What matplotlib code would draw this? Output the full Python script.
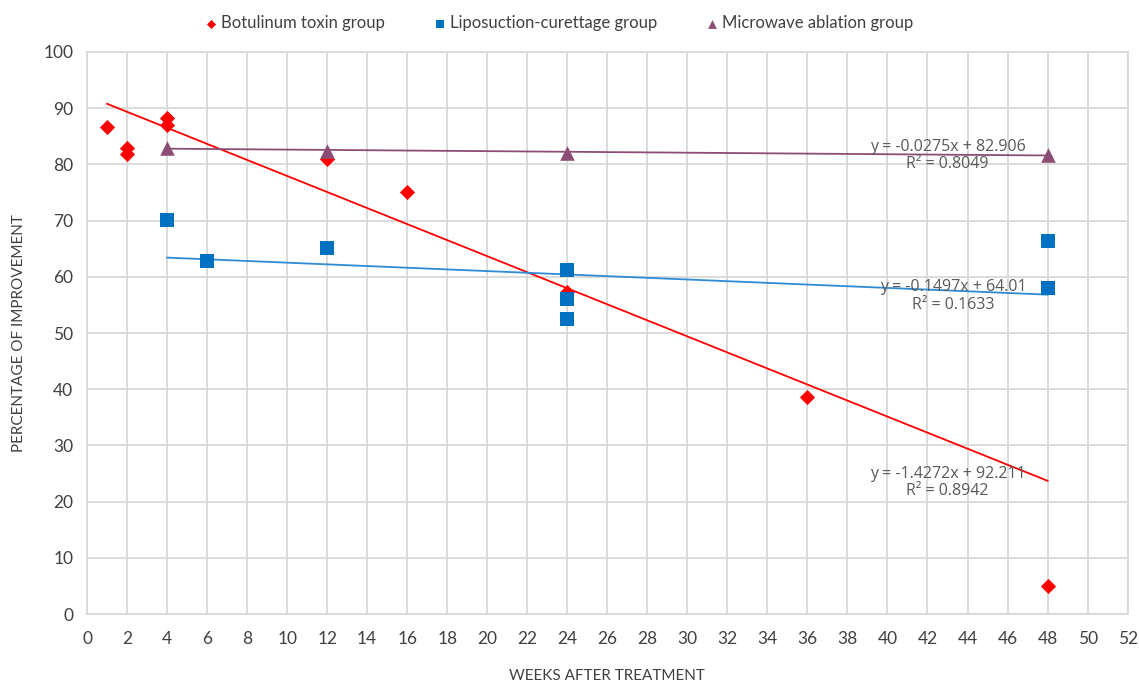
import matplotlib
matplotlib.use("Agg")
import matplotlib.pyplot as plt
import numpy as np

plt.rcParams['font.family'] = ['Lato', 'DejaVu Sans']

# Data
botox_x = [1, 2, 2, 4, 4, 12, 16, 24, 36, 48]
botox_y = [86.7, 83.0, 81.8, 88.2, 87.0, 81.0, 75.0, 57.3, 38.6, 5.0]

lipo_x = [4, 6, 12, 24, 24, 24, 48, 48]
lipo_y = [70.1, 62.8, 65.1, 61.2, 56.0, 52.5, 66.4, 58.0]

micro_x = [4, 12, 24, 48]
micro_y = [83.0, 82.3, 82.0, 81.6]

# Trendline coefficients (slope, intercept, R^2) as printed
botox_fit = (-1.4272, 92.211, 0.8942)
lipo_fit = (-0.1497, 64.01, 0.1633)
micro_fit = (-0.0275, 82.906, 0.8049)

series_names = ["Botulinum toxin group", "Liposuction-curettage group", "Microwave ablation group"]

red = "#FF0000"
blue = "#0070C0"
purple = "#8C4D75"

fig = plt.figure(figsize=(11.39, 6.84), dpi=100)
ax = fig.add_axes([0.0764, 0.1023, 0.9136, 0.8217])

def trend(xs, fit, color):
    x0, x1 = min(xs), max(xs)
    xx = np.array([x0, x1])
    ax.plot(xx, fit[0] * xx + fit[1], color=color, lw=1.3, zorder=2)

trend(botox_x, botox_fit, red)
trend(lipo_x, lipo_fit, "#2E8BD6")
trend(micro_x, micro_fit, purple)

ax.scatter(botox_x, botox_y, marker="D", s=60, color=red, zorder=3, label=series_names[0], linewidths=0)
ax.scatter(lipo_x, lipo_y, marker="s", s=95, color=blue, zorder=3, label=series_names[1], linewidths=0)
ax.scatter(micro_x, micro_y, marker="^", s=110, color=purple, zorder=3, label=series_names[2], linewidths=0)

def eq_text(x, y, fit):
    s = f"y = {fit[0]}x + {fit[1]}\nR\u00b2 = {fit[2]}"
    ax.text(x, y, s, ha="center", va="center", fontsize=11.5, color="#595959",
            family=['Open Sans', 'DejaVu Sans'], linespacing=1.1, zorder=4)

eq_text(43.0, 81.6, micro_fit)
eq_text(43.3, 56.6, lipo_fit)
eq_text(43.0, 23.4, botox_fit)

ax.set_xlim(0, 52)
ax.set_ylim(0, 100)
ax.set_xticks(np.arange(0, 53, 2))
ax.set_yticks(np.arange(0, 101, 10))
ax.grid(True, color="#D9D9D9", lw=1.3)
ax.set_axisbelow(True)
for sp in ax.spines.values():
    sp.set_color("#D9D9D9")
    sp.set_linewidth(1.3)
ax.tick_params(length=0, labelsize=12.5, colors="#404040", pad=10)
ax.tick_params(axis='x', pad=12)

fig.text(0.533, 0.0117, "WEEKS AFTER TREATMENT", fontsize=11, color="#404040", ha="center", va="center")
ax.set_ylabel("PERCENTAGE OF IMPROVEMENT", fontsize=11, color="#404040", labelpad=12)

leg = fig.legend(loc="upper center", bbox_to_anchor=(0.49, 1.0), ncol=3, frameon=False,
                 fontsize=12, handletextpad=0.1, columnspacing=2.8, markerscale=0.6,
                 handlelength=1.0, labelcolor="#404040")

fig.savefig("out.png", dpi=100)
